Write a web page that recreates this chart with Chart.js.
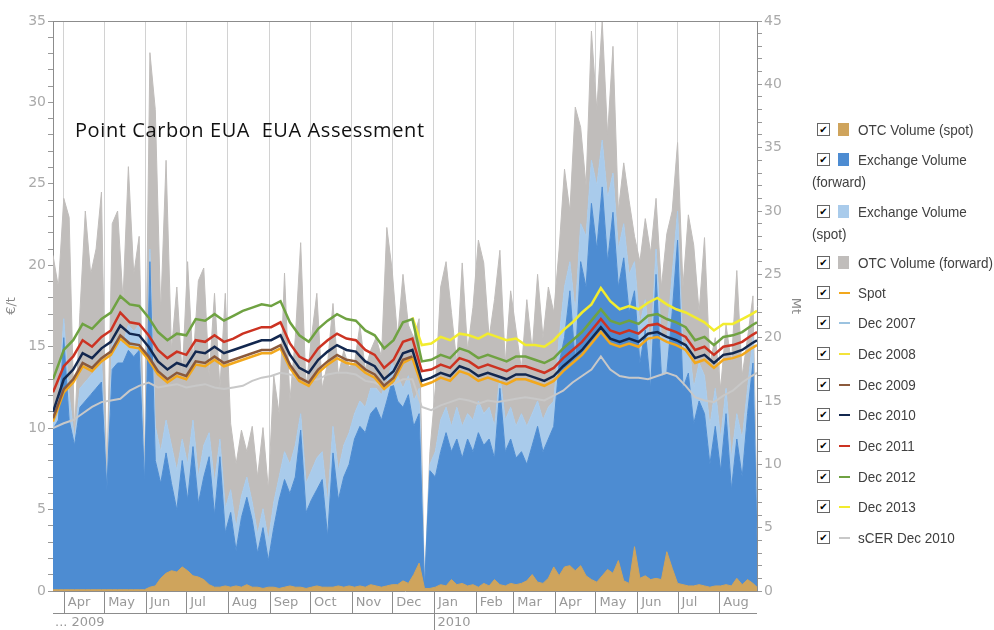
<!DOCTYPE html>
<html>
<head>
<meta charset="utf-8">
<script src="https://cdn.jsdelivr.net/npm/chart.js@4.4.1/dist/chart.umd.min.js"></script>
<style>
  html, body { margin: 0; padding: 0; background: #fff; }
  #wrap { position: relative; width: 994px; height: 630px; overflow: hidden; }
  #legend { position: absolute; left: 0; top: 0; width: 994px; height: 630px; pointer-events: none;
            font-family: "Liberation Sans", Arial, sans-serif; font-size: 15px; color: #404040; }
  .cb { position: absolute; left: 817px; width: 11px; height: 11px; border: 1px solid #666; background: #fff;
        font: bold 10px "DejaVu Sans", sans-serif; line-height: 11px; text-align: center; color: #000; }
  .sw { position: absolute; }
  .tx { position: absolute; white-space: nowrap; line-height: 16px; transform: scaleX(0.9); transform-origin: 0 50%; }
</style>
</head>
<body>
<div id="wrap">
  <canvas id="chart" width="994" height="630"></canvas>
  <div id="legend"></div>
</div>
<script>
// x values are days counted from 1 Apr 2009
const monthDays   = [0, 30, 61, 91, 122, 153, 183, 214, 244, 275, 306, 334, 365, 395, 426, 456, 487];
const monthLabels = ['Apr','May','Jun','Jul','Aug','Sep','Oct','Nov','Dec','Jan','Feb','Mar','Apr','May','Jun','Jul','Aug'];
const yearDays    = [-8, 275];
const yearLabels  = ['... 2009', '2010'];

// weekly price points (€/t)
const lineDays = [
  -8, 0, 7, 14, 21, 28, 35, 42, 49, 56,
  63, 70, 77, 84, 91, 98, 105, 112, 119, 126,
  133, 140, 147, 154, 161, 168, 175, 182, 189, 196,
  203, 210, 217, 224, 231, 238, 245, 252, 259, 266,
  273, 280, 287, 294, 301, 308, 315, 322, 329, 336,
  343, 350, 357, 364, 371, 378, 385, 392, 399, 406,
  413, 420, 427, 434, 441, 448, 455, 462, 469, 476,
  483, 490, 497, 504, 511, 515
];
const spot = [
  10.4, 12.2, 12.8, 13.8, 13.5, 14.1, 14.5, 15.5, 15.0, 14.9,
  14.2, 13.3, 12.8, 13.2, 13.0, 13.9, 13.8, 14.2, 13.8, 14.0,
  14.2, 14.4, 14.6, 14.6, 14.9, 13.7, 12.9, 12.6, 13.4, 13.9,
  14.3, 14.0, 13.9, 13.4, 13.1, 12.4, 12.9, 14.0, 14.3, 12.6,
  12.8, 13.1, 12.9, 13.5, 13.3, 12.9, 13.1, 12.9, 12.7, 13.0,
  13.0, 12.8, 12.6, 12.9, 13.5, 14.0, 14.5, 15.2, 15.9, 15.2,
  15.0, 15.2, 15.0, 15.5, 15.6, 15.3, 15.1, 14.8, 14.0, 14.2,
  13.7, 14.2, 14.3, 14.5, 14.9, 15.1
];
const dec2007 = [];
const dec2008 = [];
const dec2009 = [
  10.6, 12.4, 13.0, 14.0, 13.7, 14.3, 14.7, 15.7, 15.2, 15.1,
  14.4, 13.5, 13.0, 13.4, 13.2, 14.1, 14.0, 14.4, 14.0, 14.2,
  14.4, 14.6, 14.8, 14.8, 15.1, 13.9, 13.1, 12.8, 13.6, 14.1,
  14.5, 14.2, 14.1, 13.6, 13.3, 12.6, 13.1, 14.2, 14.4
];
const dec2010 = [
  11.0, 13.0, 13.6, 14.6, 14.3, 14.9, 15.3, 16.3, 15.8, 15.7,
  15.0, 14.1, 13.6, 14.0, 13.8, 14.7, 14.6, 15.0, 14.6, 14.8,
  15.0, 15.2, 15.4, 15.4, 15.7, 14.5, 13.7, 13.4, 14.2, 14.7,
  15.1, 14.8, 14.7, 14.1, 13.8, 13.0, 13.5, 14.6, 14.8, 12.9,
  13.1, 13.4, 13.2, 13.8, 13.6, 13.2, 13.4, 13.2, 13.0, 13.3,
  13.3, 13.1, 12.9, 13.2, 13.8, 14.3, 14.8, 15.5, 16.2, 15.5,
  15.3, 15.5, 15.3, 15.8, 15.9, 15.6, 15.4, 15.1, 14.3, 14.5,
  14.0, 14.5, 14.6, 14.8, 15.2, 15.4
];
const dec2011 = [
  12.2, 13.8, 14.4, 15.4, 15.0, 15.6, 16.0, 17.1, 16.5, 16.4,
  15.7, 14.8, 14.3, 14.7, 14.5, 15.4, 15.3, 15.7, 15.3, 15.5,
  15.8, 16.0, 16.2, 16.2, 16.5, 15.2, 14.4, 14.1, 14.9, 15.4,
  15.8, 15.5, 15.4, 14.8, 14.5, 13.7, 14.2, 15.3, 15.5, 13.5,
  13.6, 13.9, 13.7, 14.3, 14.1, 13.7, 13.9, 13.7, 13.5, 13.8,
  13.8, 13.6, 13.4, 13.7, 14.3, 14.8, 15.3, 16.0, 16.7, 16.0,
  15.8, 16.0, 15.8, 16.3, 16.4, 16.1, 15.9, 15.6, 14.8, 15.0,
  14.5, 15.0, 15.1, 15.3, 15.7, 15.9
];
const dec2012 = [
  13.0, 14.8, 15.4, 16.4, 16.1, 16.7, 17.1, 18.1, 17.6, 17.5,
  16.8, 15.9, 15.4, 15.8, 15.7, 16.7, 16.6, 17.0, 16.6, 16.9,
  17.2, 17.4, 17.6, 17.5, 17.8, 16.5, 15.7, 15.3, 16.1, 16.6,
  17.0, 16.7, 16.6, 16.0, 15.7, 14.9, 15.4, 16.5, 16.7, 14.1,
  14.2, 14.5, 14.3, 14.9, 14.7, 14.3, 14.5, 14.3, 14.1, 14.4,
  14.4, 14.2, 14.0, 14.3, 14.9, 15.4, 15.9, 16.6, 17.3, 16.6,
  16.4, 16.6, 16.4, 16.9, 17.0, 16.7, 16.5, 16.2, 15.4, 15.6,
  15.1, 15.6, 15.7, 15.9, 16.3, 16.5
];
const dec2013 = [
  null, null, null, null, null, null, null, null, null, null,
  null, null, null, null, null, null, null, null, null, null,
  null, null, null, null, null, null, null, null, null, null,
  null, null, null, null, null, null, null, null, 16.8, 15.1,
  15.2, 15.6, 15.4, 15.8, 15.7, 15.5, 15.8, 15.6, 15.4, 15.5,
  15.1, 15.1, 15.0, 15.4, 16.0, 16.5, 17.1, 17.6, 18.6, 17.8,
  17.3, 17.5, 17.3, 17.7, 18.0, 17.6, 17.3, 17.1, 16.8, 16.5,
  16.0, 16.4, 16.4, 16.7, 17.0, 17.2
];
const scerDec2010 = [
  10.0, 10.3, 10.5, 10.9, 11.3, 11.6, 11.7, 11.8, 12.3, 12.6,
  12.8, 12.5, 12.6, 12.7, 12.5, 12.6, 12.7, 12.5, 12.4, 12.5,
  12.6, 12.9, 13.1, 13.2, 13.4, 13.3, 13.0, 12.9, 13.0, 13.3,
  13.4, 13.4, 13.3, 12.9, 12.8, 12.5, 12.7, 13.0, 13.0, 11.3,
  11.1, 11.4, 11.6, 11.8, 11.7, 11.5, 11.7, 11.6, 11.7, 11.8,
  11.9, 11.8, 11.7, 12.0, 12.3, 12.8, 13.2, 13.6, 14.4, 13.6,
  13.2, 13.1, 13.1, 13.0, 13.2, 13.4, 13.2, 12.6, 11.9, 11.7,
  11.6, 12.0, 12.3, 12.8, 13.2, 13.4
];

// volumes (Mt), sampled every 4 days
const volDays = [
  -8, -4, 0, 4, 8, 12, 16, 20, 24, 28,
  32, 36, 40, 44, 48, 52, 56, 60, 64, 68,
  72, 76, 80, 84, 88, 92, 96, 100, 104, 108,
  112, 116, 120, 124, 128, 132, 136, 140, 144, 148,
  152, 156, 160, 164, 168, 172, 176, 180, 184, 188,
  192, 196, 200, 204, 208, 212, 216, 220, 224, 228,
  232, 236, 240, 244, 248, 252, 256, 260, 264, 268,
  272, 276, 280, 284, 288, 292, 296, 300, 304, 308,
  312, 316, 320, 324, 328, 332, 336, 340, 344, 348,
  352, 356, 360, 364, 368, 372, 376, 380, 384, 388,
  392, 396, 400, 404, 408, 412, 416, 420, 424, 428,
  432, 436, 440, 444, 448, 452, 456, 460, 464, 468,
  472, 476, 480, 484, 488, 492, 496, 500, 504, 508,
  512, 515
];
const otcSpot = [
  0.1, 0.1, 0.1, 0.1, 0.1, 0.1, 0.1, 0.1, 0.1, 0.1,
  0.1, 0.1, 0.1, 0.1, 0.1, 0.1, 0.1, 0.1, 0.3, 0.4,
  1.0, 1.4, 1.6, 1.5, 1.9, 1.6, 1.2, 1.1, 0.9, 0.5,
  0.3, 0.3, 0.4, 0.3, 0.4, 0.3, 0.5, 0.3, 0.3, 0.2,
  0.3, 0.3, 0.2, 0.3, 0.4, 0.3, 0.3, 0.2, 0.3, 0.4,
  0.3, 0.3, 0.3, 0.4, 0.3, 0.4, 0.3, 0.4, 0.3, 0.5,
  0.4, 0.3, 0.4, 0.5, 0.5, 0.8, 0.6, 1.3, 2.2, 0.2,
  0.2, 0.3, 0.5, 0.4, 0.9, 0.5, 0.6, 0.4, 0.5, 0.3,
  0.6, 0.4, 0.9, 0.5, 0.4, 0.6, 0.5, 0.6, 0.8, 1.3,
  0.7, 0.6, 1.0, 1.9, 1.2, 1.9, 2.0, 1.6, 2.0, 1.2,
  0.9, 0.7, 1.2, 1.7, 1.4, 2.4, 0.8, 0.6, 3.5, 1.0,
  1.2, 0.9, 1.0, 0.9, 3.1, 1.8, 0.6, 0.5, 0.4, 0.4,
  0.5, 0.4, 0.3, 0.4, 0.4, 0.5, 0.4, 1.0, 0.5, 0.9,
  0.6, 0.3
];
const exchangeForward = [
  12.8, 13.5, 20.0, 13.5, 11.5, 14.5, 15.0, 15.5, 16.0, 16.5,
  8.0, 17.5, 18.0, 18.0, 19.0, 18.5, 19.0, 8.5, 26.0, 10.3,
  8.5, 10.9, 8.5, 6.4, 10.3, 7.2, 11.4, 6.9, 9.0, 10.6,
  6.0, 10.6, 4.6, 6.2, 3.2, 5.8, 7.4, 5.6, 3.0, 5.0,
  2.4, 5.0, 7.2, 8.8, 7.7, 9.0, 12.7, 6.2, 7.2, 8.0,
  8.8, 4.3, 10.9, 7.2, 9.0, 10.0, 12.0, 13.0, 12.5, 14.0,
  14.5, 13.5, 15.0, 16.6, 15.0, 14.5, 15.5, 13.0, 14.0, 0.3,
  9.5, 9.0, 11.0, 12.5, 11.0, 12.0, 10.5, 12.0, 11.0, 12.5,
  11.5, 12.0, 10.5, 16.0, 11.0, 12.0, 10.5, 11.0, 10.0, 11.5,
  13.0, 11.0, 12.0, 13.0, 18.0, 20.0, 23.7, 18.0, 26.0, 24.0,
  30.6, 27.0, 31.9, 26.0, 29.9, 24.0, 26.3, 22.0, 23.7, 18.0,
  20.6, 16.0, 25.0, 17.0, 17.2, 22.0, 27.7, 16.0, 17.2, 13.2,
  15.0, 14.0, 10.0, 13.0, 9.5, 14.0, 8.0, 12.0, 9.0, 14.0,
  18.0, 4.0
];
const exchangeSpot = [
  1.7, 1.5, 1.5, 2.0, 0.5, 1.5, 1.5, 1.5, 1.5, 2.0,
  0.3, 2.0, 2.0, 1.5, 2.0, 2.0, 2.0, 0.5, 1.0, 2.7,
  2.5, 2.6, 3.0, 3.1, 1.7, 2.8, 2.1, 2.1, 2.5, 1.9,
  2.5, 1.4, 1.9, 1.8, 1.8, 1.7, 1.6, 1.4, 1.5, 1.5,
  1.6, 2.0, 1.8, 2.2, 2.3, 2.5, 1.3, 2.3, 2.3, 2.5,
  2.2, 2.7, 2.1, 2.3, 2.5, 2.5, 2.0, 2.0, 2.0, 2.0,
  1.5, 2.0, 1.5, 1.4, 2.0, 1.5, 1.5, 2.0, 2.0, 0.0,
  0.5, 2.0, 2.5, 2.0, 2.0, 2.5, 2.5, 2.0, 2.5, 2.5,
  2.5, 2.5, 2.5, 1.0, 2.5, 2.5, 2.5, 3.0, 3.0, 2.5,
  2.0, 2.5, 2.5, 2.0, 2.0, 4.0, 2.3, 4.0, 3.0, 4.0,
  3.4, 5.0, 3.7, 5.0, 3.1, 3.0, 2.7, 3.0, 2.3, 3.0,
  2.4, 3.0, 2.0, 3.0, 2.8, 3.0, 2.3, 3.0, 2.8, 2.8,
  3.0, 3.0, 3.0, 3.0, 2.5, 2.0, 2.5, 2.0, 3.0, 2.0,
  2.0, 1.0
];
const otcForward = [
  12.0, 9.0, 9.5, 14.0, 0.5, 6.0, 13.5, 8.0, 9.5, 13.0,
  0.3, 9.5, 10.0, 3.5, 12.5, 4.5, 7.0, 0.5, 15.5, 25.0,
  11.0, 20.5, 7.5, 14.5, 5.0, 16.0, 4.5, 15.5, 14.0, 4.5,
  15.0, 4.0, 17.0, 5.2, 5.0, 5.2, 2.0, 6.0, 4.5, 6.4,
  4.0, 10.0, 5.0, 14.1, 5.0, 8.5, 13.5, 7.5, 10.5, 13.0,
  5.0, 11.0, 9.7, 7.5, 7.5, 5.2, 4.0, 6.0, 3.0, 3.0,
  4.0, 3.0, 12.2, 7.3, 3.0, 9.0, 4.0, 5.0, 5.5, 0.0,
  1.0, 5.0, 10.5, 11.5, 9.0, 3.5, 12.9, 5.0, 8.9, 12.7,
  11.9, 5.5, 10.0, 9.9, 4.5, 9.2, 7.6, 3.5, 10.0, 5.0,
  10.0, 6.5, 9.5, 7.0, 7.0, 9.3, 4.0, 16.2, 7.6, 4.0,
  10.2, 6.0, 9.4, 5.0, 10.0, 3.0, 4.8, 5.8, 2.0, 5.0,
  6.4, 7.7, 4.0, 4.0, 8.2, 5.0, 5.4, 5.0, 9.7, 11.3,
  4.0, 10.9, 5.0, 4.0, 4.0, 5.0, 7.5, 11.3, 5.0, 4.0,
  3.3, 1.0
];

const legendNames = ['OTC Volume (spot)', 'Exchange Volume (forward)', 'Exchange Volume (spot)',
  'OTC Volume (forward)', 'Spot', 'Dec 2007', 'Dec 2008', 'Dec 2009', 'Dec 2010', 'Dec 2011',
  'Dec 2012', 'Dec 2013', 'sCER Dec 2010'];
const colors = ['#cfa45c', '#4d8cd2', '#a9cbeb', '#c0bdbb', '#f2a81d', '#9cc3e0', '#f3e33b',
  '#8b5a3c', '#13284f', '#cc3322', '#6fa242', '#f2ec2e', '#c8c8c8'];

function pts(days, vals) {
  return vals.map((v, i) => ({x: days[i], y: v}));
}

function vol(i, vals, fill, stack, order) {
  return {
    label: legendNames[i], data: pts(volDays, vals), yAxisID: 'y2', stack: stack, order: order,
    fill: fill, backgroundColor: colors[i], borderColor: colors[i], borderWidth: 1,
    pointRadius: 0, tension: 0
  };
}
function price(i, vals, order, width) {
  return {
    label: legendNames[i], data: pts(lineDays, vals), yAxisID: 'y', order: order,
    fill: false, borderColor: colors[i], backgroundColor: colors[i], borderWidth: width || 2.5,
    pointRadius: 0, tension: 0, spanGaps: false
  };
}

const datasets = [
  vol(0, otcSpot, 'origin', 'tan', 8),
  vol(1, exchangeForward, 'origin', 'vol', 9),
  vol(2, exchangeSpot, '-1', 'vol', 10),
  vol(3, otcForward, '-1', 'vol', 11),
  price(4, spot, 4),
  price(5, dec2007, 6),
  price(6, dec2008, 6),
  price(7, dec2009, 3),
  price(8, dec2010, 0),
  price(9, dec2011, 1),
  price(10, dec2012, 2),
  price(11, dec2013, 5),
  price(12, scerDec2010, 7, 2)
];

const frame = {
  id: 'frame',
  afterDraw(chart) {
    const {ctx, chartArea: a, scales: {x}} = chart;
    const rowB = a.bottom + 22;
    ctx.save();
    ctx.strokeStyle = '#8c8c8c';
    ctx.lineWidth = 1;
    ctx.beginPath();
    ctx.moveTo(a.left, a.top + 0.5);
    ctx.lineTo(a.right, a.top + 0.5);
    ctx.moveTo(a.left, rowB + 0.5);
    ctx.lineTo(a.right, rowB + 0.5);
    monthDays.forEach(d => {
      const px = Math.round(x.getPixelForValue(d)) + 0.5;
      ctx.moveTo(px, a.bottom);
      ctx.lineTo(px, rowB);
    });
    const jx = Math.round(x.getPixelForValue(yearDays[1])) + 0.5;
    ctx.moveTo(jx, rowB);
    ctx.lineTo(jx, rowB + 18);
    ctx.stroke();

    ctx.fillStyle = '#999';
    ctx.font = '13px "DejaVu Sans"';
    ctx.textBaseline = 'middle';
    ctx.textAlign = 'left';
    ctx.fillText(yearLabels[0], x.getPixelForValue(yearDays[0]) + 2, rowB + 10);
    ctx.fillText(yearLabels[1], jx + 3, rowB + 10);

    // caption inside the plot
    const title = 'Point Carbon EUA  EUA Assessment';
    ctx.fillStyle = '#111';
    ctx.font = '20px "Open Sans"';
    const w = ctx.measureText(title).width;
    if ('letterSpacing' in ctx) ctx.letterSpacing = ((349 - w) / (title.length - 1)).toFixed(2) + 'px';
    ctx.fillText(title, 75, 131);
    ctx.restore();
  }
};

const tickFont = {family: 'DejaVu Sans', size: 14};
new Chart(document.getElementById('chart'), {
  type: 'line',
  data: {datasets: datasets},
  plugins: [frame],
  options: {
    responsive: false,
    animation: false,
    events: [],
    layout: {padding: {left: 0, top: 21, right: 187, bottom: 0}},
    plugins: {legend: {display: false}, tooltip: {enabled: false}},
    scales: {
      x: {
        type: 'linear', min: -8, max: 515,
        afterBuildTicks: s => { s.ticks = monthDays.map(v => ({value: v})); },
        afterFit: s => { s.height = 39; },
        ticks: {
          callback: (v, i) => monthLabels[i], align: 'start', labelOffset: 4, padding: 4,
          autoSkip: false, maxRotation: 0, color: '#999', font: {family: 'DejaVu Sans', size: 13}
        },
        grid: {color: '#d2d2d2', drawTicks: false},
        border: {color: '#8c8c8c'}
      },
      y: {
        position: 'left', min: 0, max: 35,
        afterFit: s => { s.width = 53; },
        ticks: {stepSize: 1, autoSkip: false, padding: 2, color: '#aaa', font: tickFont,
          callback: v => (v % 5 === 0 ? v : '')},
        grid: {drawOnChartArea: false, tickLength: 5, tickColor: '#999'},
        border: {color: '#8c8c8c'},
        title: {display: true, text: '€/t', color: '#888', font: {family: 'DejaVu Sans', size: 13}, padding: 4}
      },
      y2: {
        position: 'right', min: 0, max: 45, stacked: true,
        afterFit: s => { s.width = 50; },
        ticks: {stepSize: 1, autoSkip: false, padding: 2, color: '#aaa', font: tickFont,
          callback: v => (v % 5 === 0 ? v : '')},
        grid: {drawOnChartArea: false, tickLength: 5, tickColor: '#999'},
        border: {color: '#8c8c8c'},
        title: {display: true, text: 'Mt', color: '#888', font: {family: 'DejaVu Sans', size: 13}, padding: 4}
      }
    }
  }
});

// legend with check boxes, drawn as html text
const legendY = [130, 160, 212, 263, 293, 323, 354, 385, 415, 446, 477, 507, 538];
const legend = document.getElementById('legend');
legendNames.forEach((name, i) => {
  const y = legendY[i];
  const cb = document.createElement('div');
  cb.className = 'cb';
  cb.style.top = (y - 7) + 'px';
  cb.textContent = '✔';
  legend.appendChild(cb);
  const sw = document.createElement('div');
  sw.className = 'sw';
  sw.style.background = colors[i];
  if (i < 4) {
    sw.style.left = '838px'; sw.style.top = (y - 7) + 'px'; sw.style.width = '11px'; sw.style.height = '13px';
  } else {
    sw.style.left = '839px'; sw.style.top = (y - 1) + 'px'; sw.style.width = '11px'; sw.style.height = '2px';
  }
  legend.appendChild(sw);
  const parts = (i === 1 || i === 2) ? ['Exchange Volume', name.slice(16)] : [name];
  parts.forEach((p, k) => {
    const t = document.createElement('div');
    t.className = 'tx';
    t.style.left = (k === 0 ? 858 : 812) + 'px';
    t.style.top = (y - 8 + k * 22) + 'px';
    t.textContent = p;
    legend.appendChild(t);
  });
});
</script>
</body>
</html>
